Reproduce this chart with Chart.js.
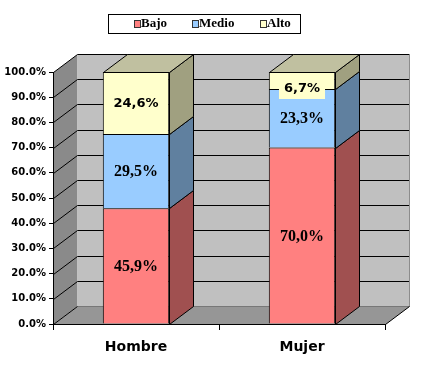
<!DOCTYPE html>
<html>
<head>
<meta charset="utf-8">
<script src="https://cdn.jsdelivr.net/npm/chart.js@4/dist/chart.umd.min.js"></script>
<style>
    body { margin: 0; background: #fff; }
    canvas { display: block; }
</style>
</head>
<body>
<canvas id="nivelChart" width="432" height="365"></canvas>
<script>
// data
const categories = ['Hombre', 'Mujer'];
const seriesNames = ['Bajo', 'Medio', 'Alto'];
const bajo = [45.9, 70.0];
const medio = [29.5, 23.3];
const alto = [24.6, 6.7];

// styles
const frontColors = ['#FF8080', '#99CCFF', '#FFFFCC'];
const sideColors = ['#A05050', '#60809F', '#A0A080'];
const topColors = ['#C06060', '#7FA6CC', '#C0C0A0'];
const DX = 24, DY = -18;
const SANS = '"DejaVu Sans", sans-serif';
const SERIF = '"Liberation Serif", "DejaVu Serif", serif';

function fmtPct(v) {
    return v.toFixed(1).replace('.', ',') + '%';
}

function poly(ctx, pts, fill, stroke) {
    ctx.beginPath();
    ctx.moveTo(pts[0][0], pts[0][1]);
    for (let i = 1; i < pts.length; i++) ctx.lineTo(pts[i][0], pts[i][1]);
    ctx.closePath();
    if (fill) { ctx.fillStyle = fill; ctx.fill(); }
    if (stroke) { ctx.strokeStyle = stroke; ctx.lineWidth = 1; ctx.stroke(); }
}

function line(ctx, x1, y1, x2, y2, color) {
    ctx.beginPath();
    ctx.moveTo(x1, y1);
    ctx.lineTo(x2, y2);
    ctx.strokeStyle = color;
    ctx.lineWidth = 1;
    ctx.stroke();
}

// walls, floor and gridlines behind the bars
const walls3d = {
    id: 'walls3d',
    beforeDraw(chart) {
        const { ctx, chartArea: a, scales: { y } } = chart;
        const L = a.left + 0.5, R = a.right + 0.5, T = a.top + 0.5, B = a.bottom + 0.5;
        ctx.save();
        ctx.fillStyle = '#fff';
        ctx.fillRect(0, 0, chart.width, chart.height);
        poly(ctx, [[L, T], [L + DX, T + DY], [L + DX, B + DY], [L, B]], '#8A8A8A');
        poly(ctx, [[L, B], [L + DX, B + DY], [R + DX, B + DY], [R, B]], '#969696');
        ctx.fillStyle = '#C0C0C0';
        ctx.fillRect(L + DX, T + DY, R - L, B - T);
        y.ticks.forEach(t => {
            const py = Math.round(y.getPixelForValue(t.value)) + 0.5;
            line(ctx, L + DX, py + DY, R + DX, py + DY, t.value === 0 ? '#777' : '#000');
            line(ctx, L, py, L + DX, py + DY, '#000');
        });
        line(ctx, R + DX, T + DY, R + DX, B + DY, '#8C8C8C');
        line(ctx, R, B, R + DX, B + DY, '#000');
        ctx.restore();
    }
};

// side and top faces of the bars, then the value labels
const bars3d = {
    id: 'bars3d',
    afterDatasetsDraw(chart) {
        const ctx = chart.ctx;
        const last = chart.data.datasets.length - 1;
        ctx.save();
        chart.data.datasets.forEach((ds, di) => {
            chart.getDatasetMeta(di).data.forEach(el => {
                const p = el.getProps(['x', 'y', 'base', 'width'], true);
                const l = Math.round(p.x - p.width / 2) + 0.5;
                const r = Math.round(p.x + p.width / 2) + 0.5;
                const t = Math.round(p.y) + 0.5;
                const b = Math.round(p.base) + 0.5;
                poly(ctx, [[r, t], [r + DX, t + DY], [r + DX, b + DY], [r, b]], sideColors[di], '#000');
                if (di === last) {
                    poly(ctx, [[l, t], [l + DX, t + DY], [r + DX, t + DY], [r, t]], topColors[di], '#000');
                }
            });
        });

        chart.data.datasets.forEach((ds, di) => {
            chart.getDatasetMeta(di).data.forEach((el, i) => {
                const p = el.getProps(['x', 'y', 'base'], true);
                const txt = fmtPct(ds.data[i]);
                let cy = (p.y + p.base) / 2;
                if (di === last) {
                    ctx.font = 'bold 13px ' + SANS;
                } else {
                    ctx.font = 'bold 16px ' + SERIF;
                }
                ctx.textAlign = 'center';
                ctx.textBaseline = 'middle';
                if (p.base - p.y < 24) {
                    cy = Math.max(cy, p.y + 16);
                    const w = ctx.measureText(txt).width + 10;
                    ctx.fillStyle = frontColors[di];
                    ctx.fillRect(p.x - w / 2, cy - 11, w, 22);
                }
                ctx.fillStyle = '#000';
                ctx.fillText(txt, p.x, cy + 1);
            });
        });
        ctx.restore();
    },
    afterDraw(chart) {
        const ctx = chart.ctx;
        ctx.save();
        ctx.fillStyle = '#fff';
        ctx.fillRect(108, 14, 192, 19);
        ctx.strokeStyle = '#000';
        ctx.lineWidth = 1;
        ctx.strokeRect(108.5, 14.5, 192, 19);
        const itemX = [134, 192, 260];
        ctx.font = 'bold 13px ' + SERIF;
        ctx.textAlign = 'left';
        ctx.textBaseline = 'middle';
        chart.data.datasets.forEach((ds, di) => {
            ctx.fillStyle = frontColors[di];
            ctx.fillRect(itemX[di], 20, 6, 7);
            ctx.strokeStyle = '#333';
            ctx.strokeRect(itemX[di] + 0.5, 20.5, 6, 7);
            ctx.fillStyle = '#000';
            ctx.fillText(ds.label, itemX[di] + 7, 24);
        });
        ctx.restore();
    }
};

new Chart(document.getElementById('nivelChart'), {
    type: 'bar',
    data: {
        labels: categories,
        datasets: [bajo, medio, alto].map((vals, i) => ({
            label: seriesNames[i],
            data: vals,
            backgroundColor: frontColors[i],
            borderColor: '#000',
            borderWidth: 1,
            categoryPercentage: 1,
            barPercentage: 0.4
        }))
    },
    options: {
        responsive: false,
        animation: false,
        devicePixelRatio: 1,
        layout: {
            padding: { top: 72, right: 47, left: 0, bottom: 0 }
        },
        plugins: {
            legend: { display: false },
            tooltip: { enabled: false }
        },
        scales: {
            x: {
                stacked: true,
                grid: {
                    drawOnChartArea: false,
                    drawTicks: true,
                    tickLength: 6,
                    color: '#000',
                    offset: true
                },
                border: { display: true, color: '#000' },
                ticks: {
                    color: '#000',
                    padding: 9,
                    font: { family: SANS, size: 14, weight: 'bold' }
                },
                afterFit: s => { s.height = 41; }
            },
            y: {
                stacked: true,
                min: 0,
                max: 100,
                grid: {
                    drawOnChartArea: false,
                    tickLength: 4,
                    color: '#000'
                },
                border: { display: true, color: '#000' },
                ticks: {
                    stepSize: 10,
                    color: '#000',
                    padding: 3,
                    font: { family: SANS, size: 10, weight: 'bold' },
                    callback: v => v.toFixed(1) + '%'
                },
                afterFit: s => { s.width = 53; }
            }
        }
    },
    plugins: [walls3d, bars3d]
});
</script>
</body>
</html>
